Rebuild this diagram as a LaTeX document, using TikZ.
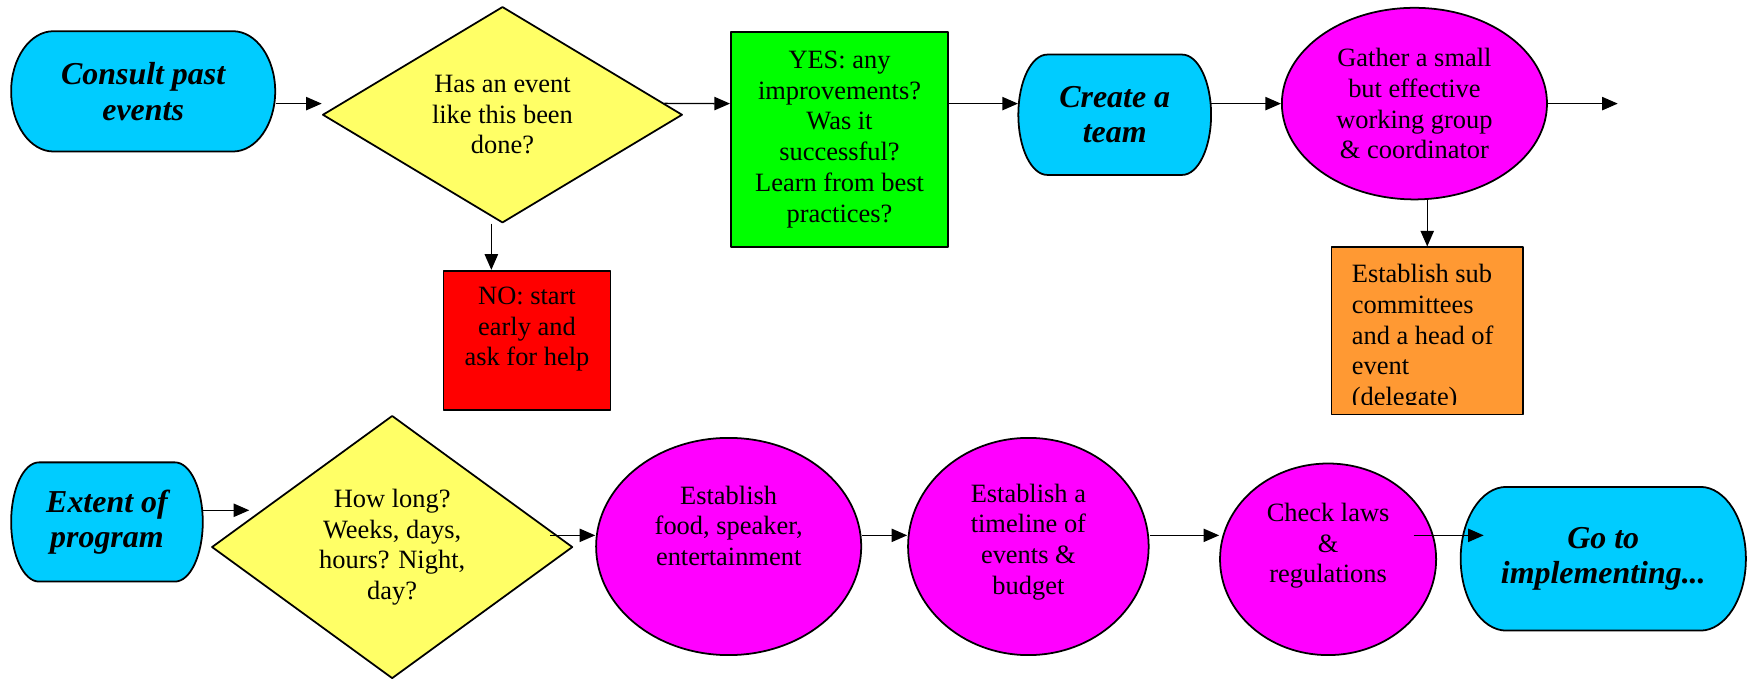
\documentclass[tikz,border=0pt]{standalone}
\usepackage{fontspec}
\setmainfont{Liberation Serif}
\usetikzlibrary{arrows.meta,shapes.geometric,calc}

\definecolor{termcyan}{RGB}{0,204,255}
\definecolor{askyellow}{RGB}{255,255,102}
\definecolor{yesgreen}{RGB}{0,255,0}
\definecolor{nored}{RGB}{255,0,0}
\definecolor{taskmagenta}{RGB}{255,0,255}
\definecolor{suborange}{RGB}{255,153,51}

\tikzset{
  shapeline/.style={draw=black,line width=0.9pt},
  termline/.style={shapeline,fill=termcyan},
  termtext/.style={inner sep=0pt,align=center,font=\fontsize{16.3}{18.2}\selectfont\bfseries\itshape},
  plaintext/.style={inner sep=0pt,align=center,font=\fontsize{13.5}{15.7}\selectfont},
  ask/.style={shapeline,plaintext,diamond,fill=askyellow},
  answerbox/.style={shapeline,plaintext,rectangle},
  task/.style={shapeline,plaintext,ellipse,fill=taskmagenta},
  flow/.style={->,line width=0.7pt}
}

\begin{document}
\begin{tikzpicture}[line join=round,>={Triangle[length=8pt,width=6.8pt]},x=0.02cm,y=0.02cm]
\useasboundingbox (0,0) rectangle (1568,609);
% top row
\filldraw[termline] (48,581) -- (209,581) arc[start angle=90,end angle=-90,x radius=38,y radius=54] -- (48,473) arc[start angle=270,end angle=90,x radius=38,y radius=54] -- cycle;
\node[termtext,minimum width=4.74cm,minimum height=2.16cm] (consult) at (128.5,527) {Consult past\\events};
\node[ask,shape aspect=1.66,minimum width=6.46cm,minimum height=3.88cm] (done) at (451,506) {Has an event\\like this been\\done?};
\node[answerbox,fill=yesgreen,minimum width=3.9cm,minimum height=3.86cm] (yes) at (753.5,484) {YES: any\\improvements?\\Was it\\successful?\\Learn from best\\practices?};
\node[answerbox,fill=nored,minimum width=3cm,minimum height=2.5cm] (nohelp) at (473,303.5) {};
\node[plaintext] (nohelptxt) at (473,313.5) {NO: start\\early and\\ask for help};
\filldraw[termline] (940,560) -- (1061,560) arc[start angle=90,end angle=-90,x radius=26,y radius=54] -- (940,452) arc[start angle=270,end angle=90,x radius=26,y radius=54] -- cycle;
\node[termtext,minimum width=3.46cm,minimum height=2.16cm] (team) at (1000.5,506) {Create a\\team};
\node[task,minimum width=4.76cm,minimum height=3.44cm] (gather) at (1269.5,516) {Gather a small\\but effective\\working group\\\& coordinator};
\node[answerbox,fill=suborange,minimum width=3.44cm,minimum height=3cm] (sub) at (1281,312) {};
\begin{scope}
  \clip (sub.north west) rectangle (1367,246);
  \node[plaintext,align=left,anchor=north west] (subtxt) at (1213,372) {Establish sub\\committees\\and a head of\\event\\(delegate)};
\end{scope}
% bottom row
\filldraw[termline] (35,194) -- (157,194) arc[start angle=90,end angle=-90,x radius=25,y radius=53.5] -- (35,87) arc[start angle=270,end angle=90,x radius=25,y radius=53.5] -- cycle;
\node[termtext,minimum width=3.44cm,minimum height=2.14cm] (extent) at (96,140.5) {Extent of\\program};
\node[ask,shape aspect=1.37,minimum width=6.48cm,minimum height=4.72cm] (howlong) at (352,118) {How long?\\Weeks, days,\\hours? Night,\\day?};
\node[task,minimum width=4.76cm,minimum height=3.9cm] (food) at (654,118.5) {};
\node[plaintext] (foodtxt) at (654,137) {Establish\\food, speaker,\\entertainment};
\node[task,minimum width=4.32cm,minimum height=3.9cm] (timeline) at (923,118.5) {};
\node[plaintext] (timelinetxt) at (923,122.5) {Establish a\\timeline of\\events \&\\budget};
\node[task,minimum width=3.88cm,minimum height=3.44cm] (laws) at (1192,107) {};
\node[plaintext] (lawstxt) at (1192,119) {Check laws\\\&\\regulations};
\filldraw[termline] (1352,172) -- (1526,172) arc[start angle=90,end angle=-90,x radius=41,y radius=64.5] -- (1352,43) arc[start angle=270,end angle=90,x radius=41,y radius=64.5] -- cycle;
\node[termtext,minimum width=5.12cm,minimum height=2.58cm] (go) at (1439,107.5) {Go to\\implementing...};
% connectors
\coordinate (row1) at (0,516);
\coordinate (row2) at (0,128.5);
\coordinate (row2a) at (0,151);
\coordinate (onward) at (1452,516);
\coordinate (noin) at ($(nohelp.north)+(-32,0)$);
\draw[flow] (consult.east |- row1) -- (done.west |- row1);
\draw[flow] (done.4) -- (yes.west |- row1);
\draw[flow] (done.south -| noin) -- (noin);
\draw[flow] (yes.east |- row1) -- (team.west |- row1);
\draw[flow] (team.east |- row1) -- (gather.west);
\draw[flow] (gather.east) -- (onward);
\draw[flow] (gather.south -| sub.north) -- (sub.north);
\draw[flow] (extent.east |- row2a) -- ($(howlong.west |- row2a)+(34.5,0)$);
\draw[flow] ($(howlong.east |- row2)+(-21,0)$) -- (food.west |- row2);
\draw[flow] (food.east |- row2) -- (timeline.west |- row2);
\draw[flow] (timeline.east |- row2) -- (laws.west |- row2);
\draw[flow] ($(laws.east |- row2)+(-21,0)$) -- ($(go.west |- row2)+(21,0)$);
\end{tikzpicture}
\end{document}
